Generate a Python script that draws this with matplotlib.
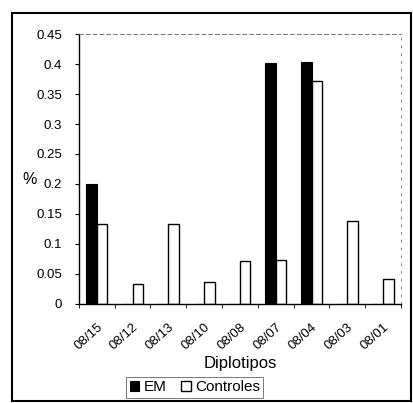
import matplotlib.pyplot as plt
import numpy as np
from matplotlib.patches import Rectangle

plt.rcParams['font.family'] = ['Liberation Sans', 'DejaVu Sans']

diplotipos = ['08/15', '08/12', '08/13', '08/10', '08/08', '08/07', '08/04', '08/03', '08/01']
em = [0.2, 0, 0, 0, 0, 0.402, 0.404, 0, 0]
controles = [0.134, 0.034, 0.134, 0.036, 0.071, 0.073, 0.371, 0.139, 0.041]
yticks = [0, 0.05, 0.1, 0.15, 0.2, 0.25, 0.3, 0.35, 0.4, 0.45]

fig = plt.figure(figsize=(4.13, 4.03), dpi=100)
ax = fig.add_axes([0.191, 0.2457, 0.78, 0.6699])

x = np.arange(len(diplotipos))
w = 0.29
ax.bar(x - w/2, em, w, color='black', edgecolor='black', linewidth=0.8, label='EM')
ax.bar(x + w/2, controles, w, color='white', edgecolor='black', linewidth=1.0, label='Controles')

ax.set_xlim(-0.5, len(diplotipos) - 0.5)
ax.set_ylim(0, 0.45)
ax.set_yticks(yticks)
ax.set_yticklabels(['0' if t == 0 else ('%g' % t) for t in yticks], fontsize=9.5)
ax.set_xticks(x)
ax.set_xticklabels(diplotipos, rotation=42, ha='right', rotation_mode='anchor', fontsize=9.5)
ax.tick_params(axis='x', length=0, pad=12)
ax.set_xticks(np.arange(len(diplotipos) + 1) - 0.5, minor=True)
ax.tick_params(axis='x', which='minor', length=3, direction='out')
ax.tick_params(axis='y', length=3, direction='out', pad=9)

ax.spines['top'].set_linestyle((0, (4, 3)))
ax.spines['top'].set_color('#777777')
ax.spines['top'].set_linewidth(0.7)
ax.spines['right'].set_linestyle((0, (2, 6)))
ax.spines['right'].set_color('#888888')
ax.spines['right'].set_linewidth(0.7)
ax.spines['left'].set_linewidth(1.0)
ax.spines['bottom'].set_linewidth(1.0)

ax.set_xlabel('Diplotipos', fontsize=12, labelpad=3)
fig.text(0.072, 0.555, '%', fontsize=11.5, ha='center', va='center')

leg = ax.legend(loc='upper center', bbox_to_anchor=(0.36, -0.272), ncol=2, fontsize=11,
                frameon=True, fancybox=False, handlelength=0.6, handleheight=0.6,
                handletextpad=0.3, columnspacing=1.0, borderpad=0.2, borderaxespad=0)
leg.get_frame().set_edgecolor('#555555')
leg.get_frame().set_linewidth(0.7)

fig.patches.append(Rectangle((0.03, 0.005), 0.965, 0.963, transform=fig.transFigure,
                             fill=False, edgecolor='black', linewidth=1.5))

fig.savefig('out.png', dpi=100)
